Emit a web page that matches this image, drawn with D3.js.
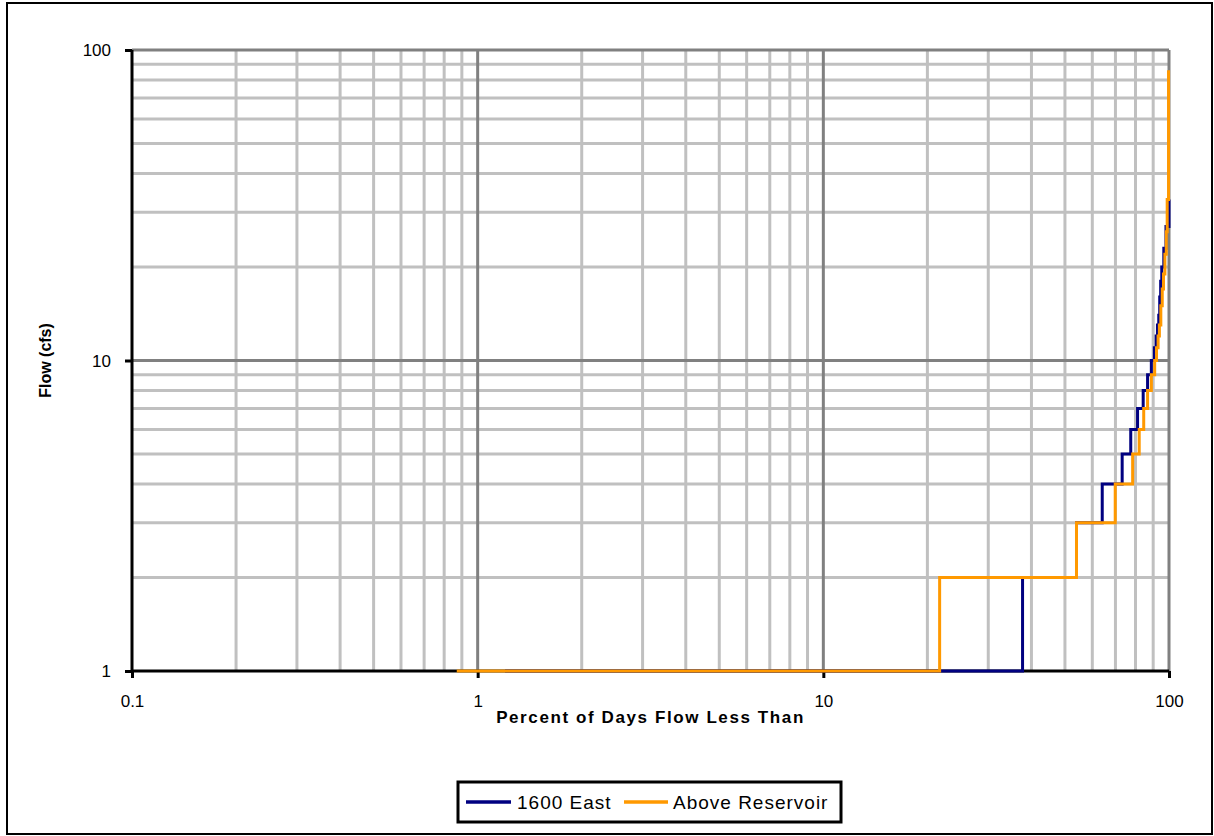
<!DOCTYPE html>
<html>
<head>
<meta charset="utf-8">
<script src="https://cdn.jsdelivr.net/npm/d3@7"></script>
<style>
  html, body { margin: 0; padding: 0; background: #fff; }
  svg { display: block; font-family: Arial, "Liberation Sans", sans-serif; }
</style>
</head>
<body>
<svg id="chart" width="1214" height="836"></svg>
<script>
// Flow duration curves: flow (cfs) vs. percent of days flow is less than.
const seriesNames = ["1600 East", "Above Reservoir"];
const seriesColors = ["#000080", "#FF9900"];

// 1600 East: percent where each flow level begins, and the flow level
const eastPercent = [1.2, 37.7, 54.0, 64.1, 73.2, 77.5, 81.1, 84.2, 86.7, 88.9, 90.7, 91.8, 92.6, 93.4, 94.0, 94.6, 95.3, 96.6, 98.0, 100];
const eastFlow    = [1,   2,    3,    4,    5,    6,    7,    8,    9,    10,   11,   12,   13,   14,   16,   18,   20,   23,   27,   33];

// Above Reservoir
const abovePercent = [0.87, 21.7, 54.0, 69.9, 78.5, 82.0, 84.5, 86.7, 88.9, 90.9, 92.0, 93.0, 93.8, 94.7, 95.6, 96.4, 97.3, 98.2, 98.8, 99.7];
const aboveFlow    = [1,    2,    3,    4,    5,    6,    7,    8,    9,    10,   11,   12,   13,   15,   17,   19,   22,   26,   33,   86];

const xTicks = [0.1, 1, 10, 100];
const yTicks = [1, 10, 100];
const xTitle = "Percent of Days Flow Less Than";
const yTitle = "Flow (cfs)";

const svg = d3.select("#chart");
const W = 1214, H = 836;
const plot = { left: 132, right: 1169, top: 50, bottom: 671 };

const x = d3.scaleLog().domain([0.1, 100]).range([plot.left, plot.right]);
const y = d3.scaleLog().domain([1, 100]).range([plot.bottom, plot.top]);

// outer chart frame
svg.append("rect")
  .attr("x", 7).attr("y", 3).attr("width", W - 9).attr("height", H - 5)
  .attr("fill", "#fff").attr("stroke", "#000").attr("stroke-width", 2);

// gridlines: minor (light) and major (dark)
const xMinor = [], yMinor = [];
[0.1, 1, 10].forEach(d => { for (let k = 2; k <= 9; k++) xMinor.push(+(d * k).toPrecision(3)); });
[1, 10].forEach(d => { for (let k = 2; k <= 9; k++) yMinor.push(+(d * k).toPrecision(3)); });

const grid = svg.append("g");
grid.selectAll("line.xminor").data(xMinor).join("line")
  .attr("x1", d => x(d)).attr("x2", d => x(d))
  .attr("y1", plot.top).attr("y2", plot.bottom)
  .attr("stroke", "#c0c0c0").attr("stroke-width", 3);
grid.selectAll("line.yminor").data(yMinor).join("line")
  .attr("y1", d => y(d)).attr("y2", d => y(d))
  .attr("x1", plot.left).attr("x2", plot.right)
  .attr("stroke", "#c0c0c0").attr("stroke-width", 3);
grid.selectAll("line.xmajor").data(xTicks.slice(1)).join("line")
  .attr("x1", d => x(d)).attr("x2", d => x(d))
  .attr("y1", plot.top).attr("y2", plot.bottom)
  .attr("stroke", "#808080").attr("stroke-width", 3);
grid.selectAll("line.ymajor").data(yTicks.slice(1)).join("line")
  .attr("y1", d => y(d)).attr("y2", d => y(d))
  .attr("x1", plot.left).attr("x2", plot.right)
  .attr("stroke", "#808080").attr("stroke-width", 3);

// data lines
const line = d3.line()
  .x(d => x(d[0])).y(d => y(d[1]))
  .curve(d3.curveStepAfter);

const series = [
  d3.zip(eastPercent, eastFlow),
  d3.zip(abovePercent, aboveFlow)
];

// axes
const xAxis = d3.axisBottom(x).tickValues(xTicks).tickSize(7).tickFormat(d3.format("~g"));
const yAxis = d3.axisLeft(y).tickValues(yTicks).tickSize(7).tickFormat(d3.format("~g"));

const gx = svg.append("g").attr("transform", `translate(0,${plot.bottom})`).call(xAxis);
const gy = svg.append("g").attr("transform", `translate(${plot.left},0)`).call(yAxis);
[gx, gy].forEach(g => {
  g.select(".domain").remove();
  g.selectAll(".tick line").attr("stroke", "#000").attr("stroke-width", 3);
  g.selectAll(".tick text").attr("fill", "#000").attr("font-size", 17)
    .attr("font-family", "Arial, 'Liberation Sans', sans-serif");
});
gx.selectAll(".tick text").attr("dy", "1.5em");
gy.selectAll(".tick text").attr("x", -21).attr("dy", "0.35em");

svg.append("line")
  .attr("x1", plot.left).attr("x2", plot.right)
  .attr("y1", plot.bottom).attr("y2", plot.bottom)
  .attr("stroke", "#000").attr("stroke-width", 3);
svg.append("line")
  .attr("x1", plot.left).attr("x2", plot.left)
  .attr("y1", plot.top).attr("y2", plot.bottom)
  .attr("stroke", "#000").attr("stroke-width", 3);

svg.append("g").selectAll("path").data(series).join("path")
  .attr("d", line)
  .attr("fill", "none")
  .attr("stroke", (d, i) => seriesColors[i])
  .attr("stroke-width", 3)
  .attr("stroke-linejoin", "miter");

// axis titles
svg.append("text")
  .attr("x", (plot.left + plot.right) / 2).attr("y", 723)
  .attr("text-anchor", "middle")
  .attr("font-weight", "bold").attr("font-size", 17)
  .attr("letter-spacing", 1.6)
  .text(xTitle);
svg.append("text")
  .attr("transform", `translate(51,${(plot.top + plot.bottom) / 2}) rotate(-90)`)
  .attr("text-anchor", "middle")
  .attr("font-weight", "bold").attr("font-size", 16)
  .text(yTitle);

// legend
const lg = svg.append("g");
lg.append("rect")
  .attr("x", 458).attr("y", 782).attr("width", 383).attr("height", 40)
  .attr("fill", "#fff").attr("stroke", "#000").attr("stroke-width", 3);
const legendItems = [
  { x0: 466, x1: 511, tx: 517 },
  { x0: 624, x1: 668, tx: 673 }
];
legendItems.forEach((it, i) => {
  lg.append("line")
    .attr("x1", it.x0).attr("x2", it.x1).attr("y1", 802).attr("y2", 802)
    .attr("stroke", seriesColors[i]).attr("stroke-width", 3.5);
  lg.append("text")
    .attr("x", it.tx).attr("y", 809)
    .attr("font-size", 19)
    .attr("letter-spacing", 1)
    .text(seriesNames[i]);
});
</script>
</body>
</html>
